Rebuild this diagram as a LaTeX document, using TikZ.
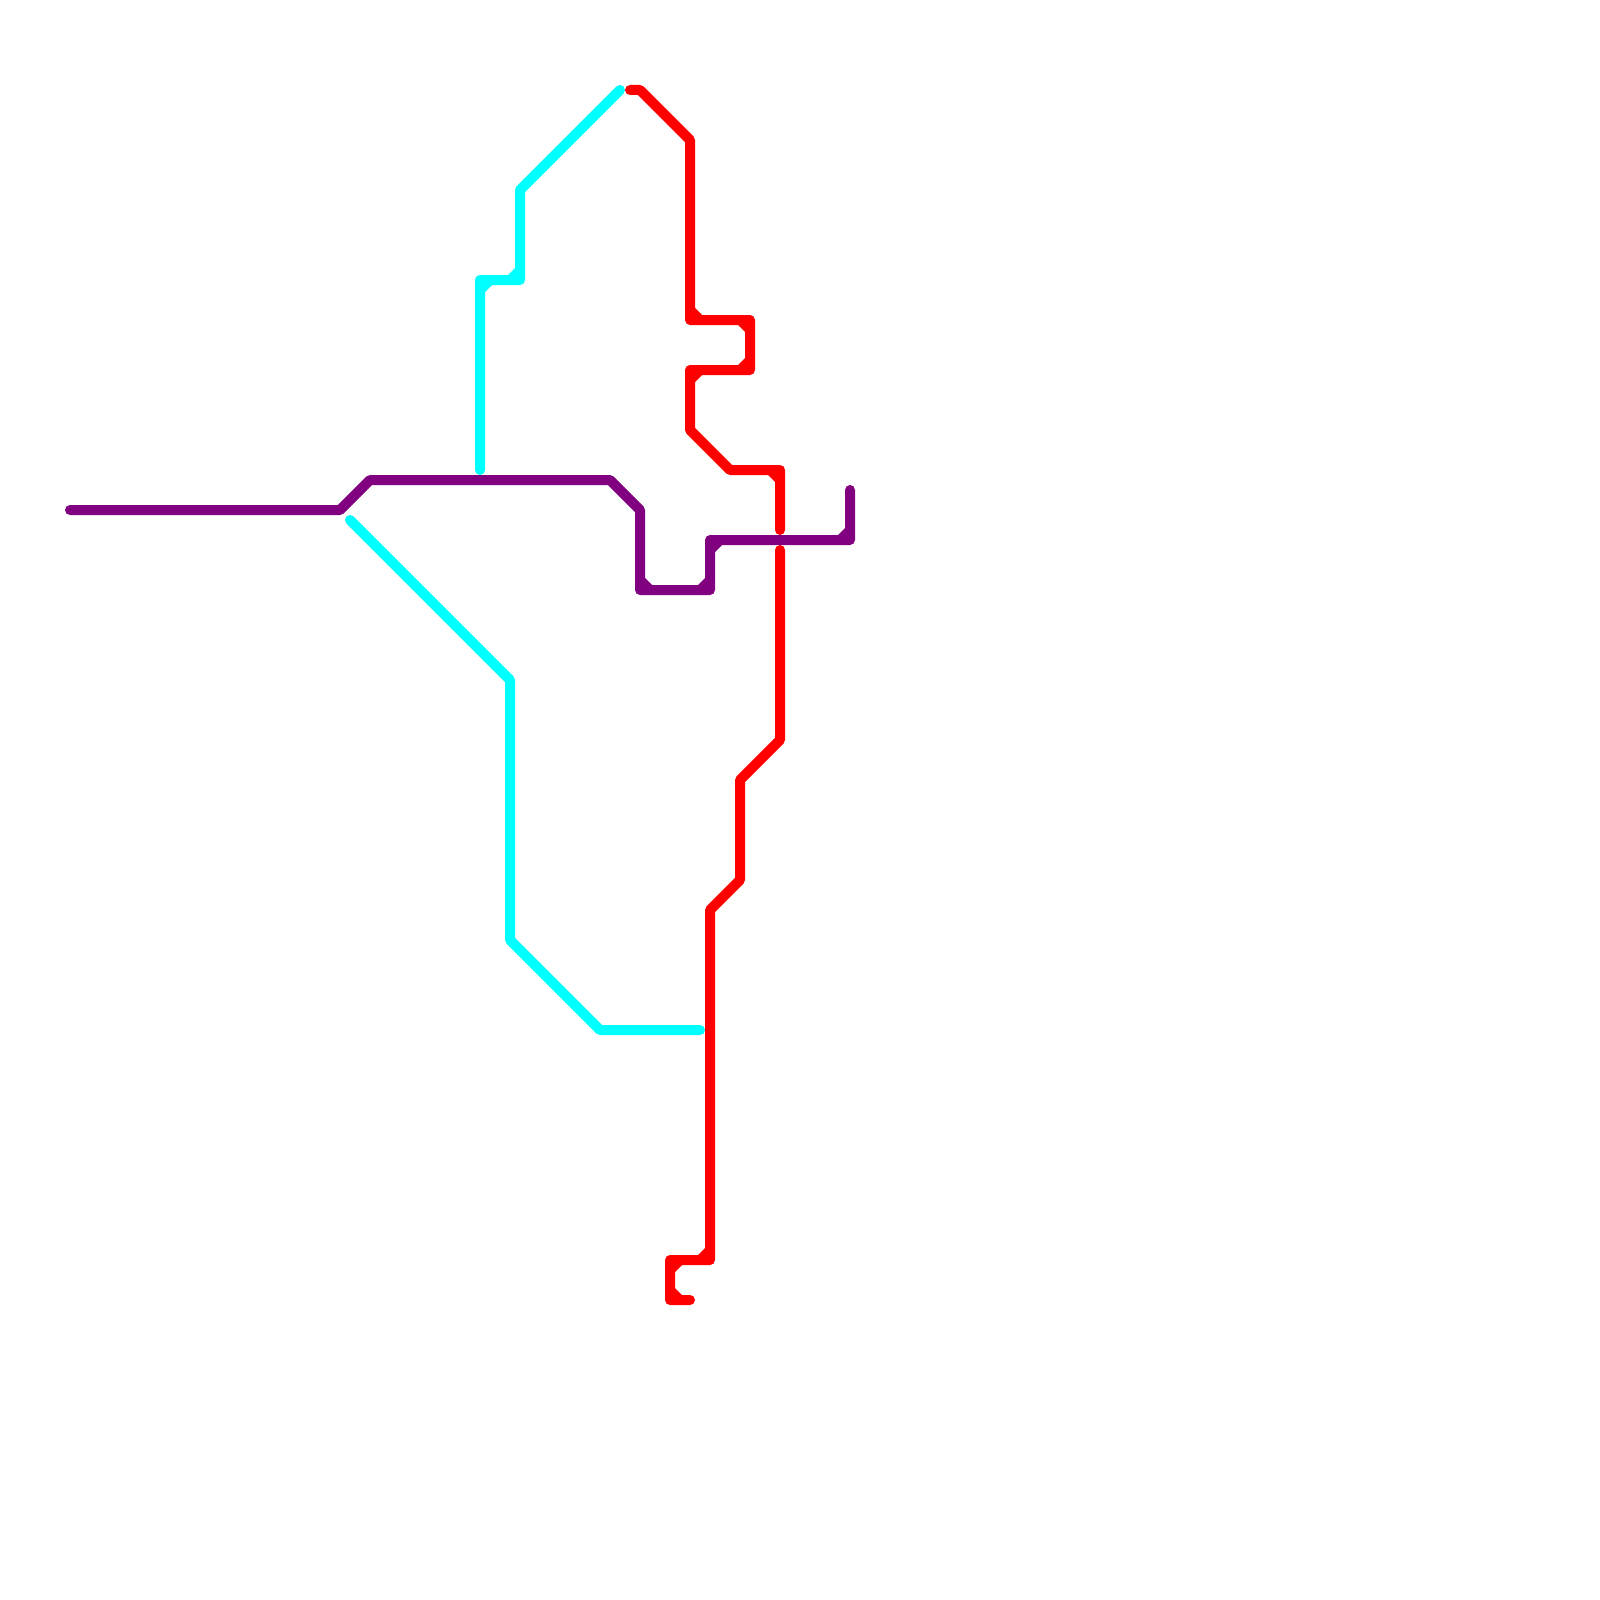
\documentclass[tikz,border=0pt]{standalone}
\definecolor{lineA}{RGB}{128,0,128}
\definecolor{lineB}{RGB}{0,255,255}
\definecolor{lineC}{RGB}{255,0,0}
\tikzset{
  route/.style={line width=10pt,line cap=round,line join=round,
    preaction={draw,line join=miter,miter limit=1.2}},
}
\newcommand{\innercorner}[5]{\fill[#1] (#2,#3) -- ++(#4*17,0) -- ++(-#4*17,#5*17) -- cycle;}
\begin{document}
\begin{tikzpicture}[x=1pt,y=-1pt]
\useasboundingbox (0,0) rectangle (1600,1600);
\fill[white] (0,0) rectangle (1600,1600);
% cyan
\draw[route,lineB] (620,90) -- (520,190) -- (520,280) -- (480,280) -- (480,470);
\innercorner{lineB}{520}{280}{-1}{-1}
\innercorner{lineB}{480}{280}{1}{1}
\draw[route,lineB] (350,520) -- (510,680) -- (510,940) -- (600,1030) -- (700,1030);
% red
\draw[route,lineC] (630,90) -- (640,90) -- (690,140) -- (690,320) -- (750,320) -- (750,370) -- (690,370) -- (690,430) -- (730,470) -- (780,470) -- (780,530);
\innercorner{lineC}{690}{320}{1}{-1}
\innercorner{lineC}{750}{320}{-1}{1}
\innercorner{lineC}{750}{370}{-1}{-1}
\innercorner{lineC}{690}{370}{1}{1}
\innercorner{lineC}{780}{470}{-1}{1}
\draw[route,lineC] (780,550) -- (780,740) -- (740,780) -- (740,880) -- (710,910) -- (710,1260) -- (670,1260) -- (670,1300) -- (690,1300);
\innercorner{lineC}{710}{1260}{-1}{-1}
\innercorner{lineC}{670}{1260}{1}{1}
\innercorner{lineC}{670}{1300}{1}{-1}
% purple
\draw[route,lineA] (70,510) -- (340,510) -- (370,480) -- (610,480) -- (640,510) -- (640,590) -- (710,590) -- (710,540) -- (850,540) -- (850,490);
\innercorner{lineA}{640}{590}{1}{-1}
\innercorner{lineA}{710}{590}{-1}{-1}
\innercorner{lineA}{710}{540}{1}{1}
\innercorner{lineA}{850}{540}{-1}{-1}
\end{tikzpicture}
\end{document}
